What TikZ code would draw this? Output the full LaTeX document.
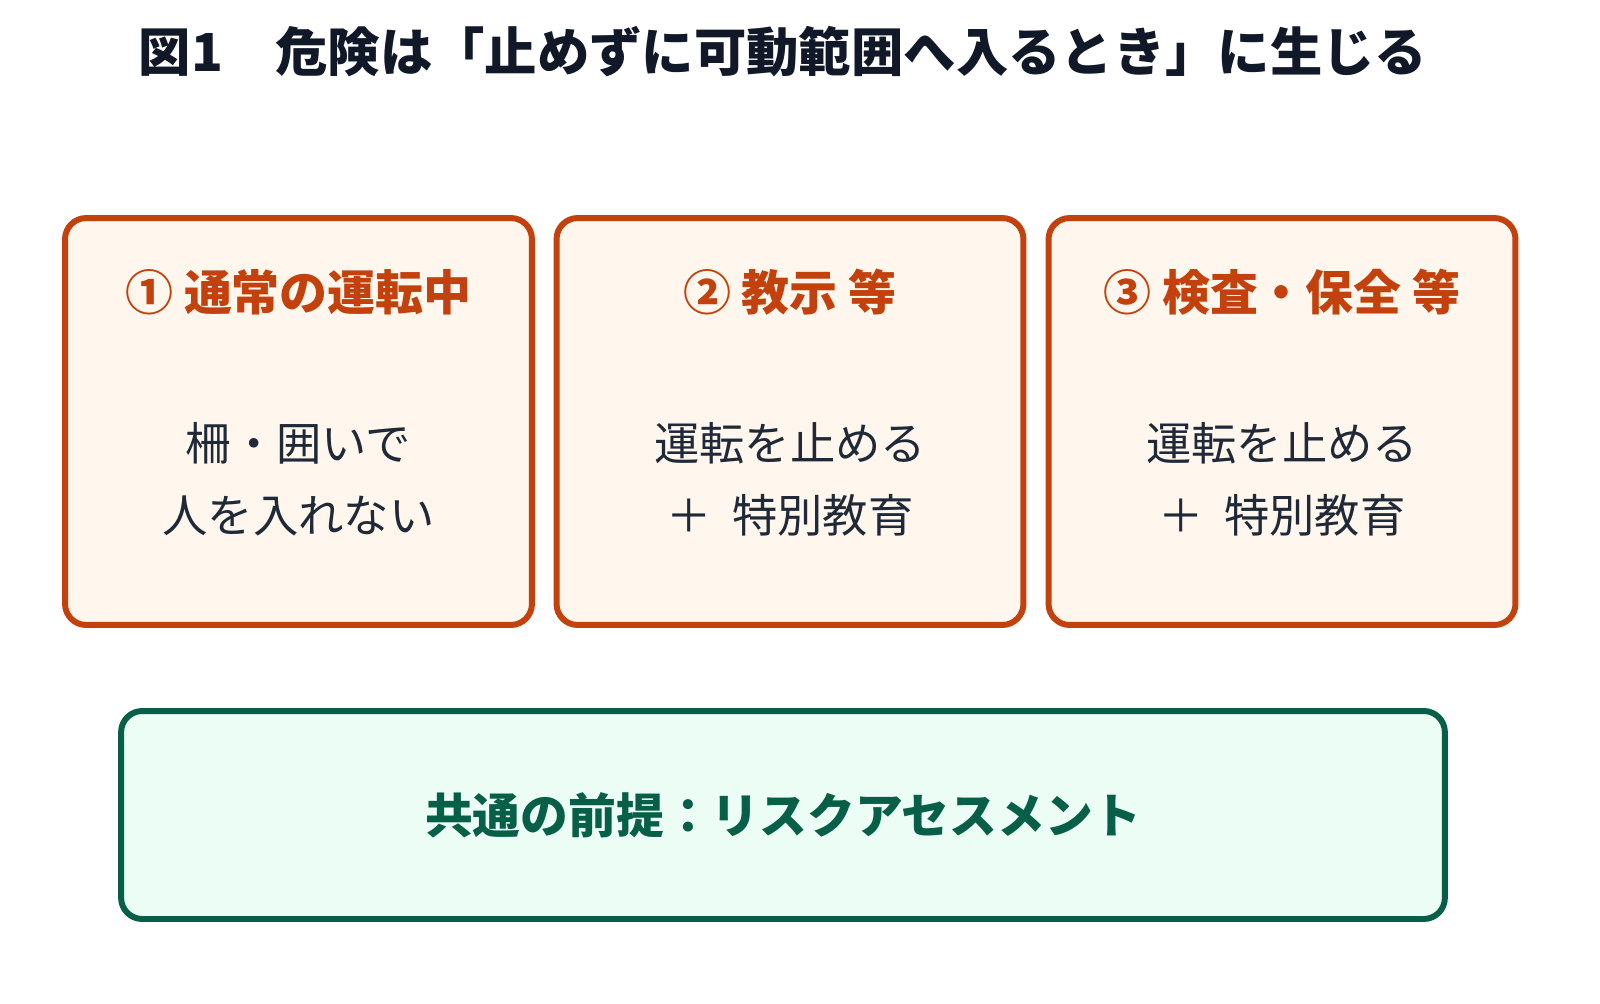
\documentclass[tikz,border=0pt]{standalone}
\usepackage{fontspec}
\setmainfont{Noto Sans CJK JP}
\usepackage{xcolor}
\usepackage{tikz}
\usetikzlibrary{positioning}
\definecolor{orangeline}{HTML}{C2410C}
\definecolor{orangefill}{HTML}{FFF7ED}
\definecolor{greenline}{HTML}{065F46}
\definecolor{greenfill}{HTML}{ECFDF5}
\definecolor{darktext}{HTML}{111827}
\definecolor{bodytext}{HTML}{1F2937}
\tikzstyle{casebox} = [rectangle, draw = orangeline, fill = orangefill, line width = 3.4pt, rounded corners = 12pt, minimum width = 9.34cm, minimum height = 8.14cm]
\tikzstyle{basebox} = [rectangle, draw = greenline, fill = greenfill, line width = 3.4pt, rounded corners = 12pt, minimum width = 26.48cm, minimum height = 4.16cm]
\tikzstyle{casehead} = [draw=none, inner sep = 0, text = orangeline, font = \fontsize{27.3}{31}\selectfont\bfseries]
\tikzstyle{casebody} = [draw=none, inner sep = 0, text = bodytext, align = center, font = \fontsize{25.8}{40.8}\selectfont]

\begin{document}
\begin{tikzpicture}[x = 0.02cm, y = -0.02cm]
\useasboundingbox (0, 0) rectangle (1600, 1004);
\node [draw=none, inner sep = 0, text = darktext, font = \fontsize{29.8}{34}\selectfont\bfseries] (title) at (783, 52) {図1　危険は「止めずに可動範囲へ入るとき」に生じる};
\node [casebox] (B1) at (298.5, 421.5) {};
\node [casebox] (B2) at (790, 421.5) {};
\node [casebox] (B3) at (1282, 421.5) {};
\node [casehead] (H1) at (298.5, 292) {① 通常の運転中};
\node [casehead] (H2) at (790, 292) {② 教示 等};
\node [casehead] (H3) at (1282, 292) {③ 検査・保全 等};
\node [casebody] (T1) at (298.5, 479) {柵・囲いで\\人を入れない};
\node [casebody] (T2) at (790, 479) {運転を止める\\＋\ \ 特別教育};
\node [casebody] (T3) at (1282, 479) {運転を止める\\＋\ \ 特別教育};
\node [basebox] (base) at (783, 815) {};
\node [draw=none, inner sep = 0, text = greenline, font = \fontsize{27.2}{32}\selectfont\bfseries] (baseT) at (783, 815) {共通の前提：リスクアセスメント};
\end{tikzpicture}
\end{document}
